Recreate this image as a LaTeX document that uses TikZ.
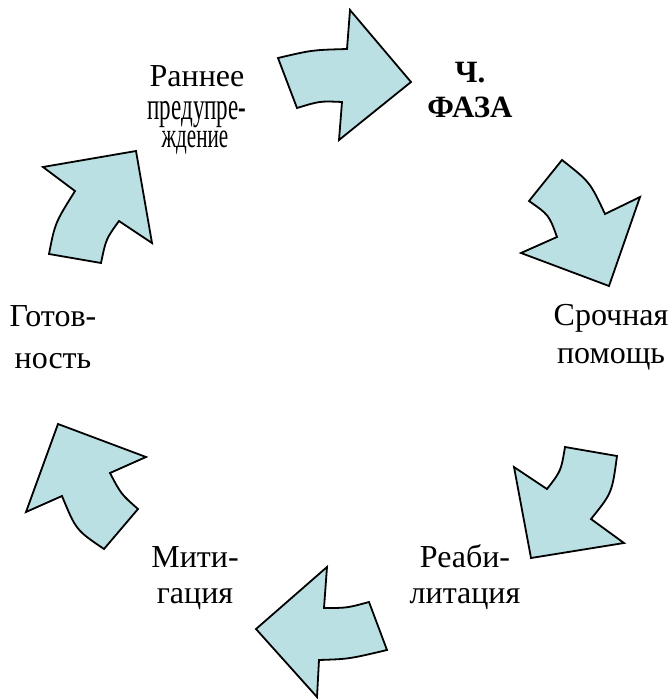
\documentclass[tikz,border=0pt]{standalone}
\usepackage{fontspec}
\setmainfont{Liberation Serif}
\usepackage{graphicx}
\definecolor{arrfill}{RGB}{186,224,227}
\begin{document}
\begin{tikzpicture}[x=1pt,y=-1pt,
  arr/.style={draw=black,fill=arrfill,line width=1.8pt,line join=miter},
  lbl/.style={anchor=base,align=center,inner sep=0pt,font=\fontsize{32}{42}\selectfont},
  cond/.style={anchor=base,inner sep=0pt,font=\fontsize{32}{32}\selectfont}]
\useasboundingbox (0,0) rectangle (671,699);
% top arrow
\draw[arr] (278,58) .. controls (312,50) .. (347,49) -- (350,10) -- (411,82) -- (339,140) -- (342,102) .. controls (320,101) .. (297,108) -- cycle;
% upper right arrow
\draw[arr] (562,160) .. controls (590,182) .. (605,214) -- (640,197) -- (609,286) -- (521,253) -- (557,237) .. controls (549,215) .. (529,201) -- cycle;
% lower right arrow
\draw[arr] (565,447) -- (617,456) .. controls (612,493) .. (591,519) -- (624,543) -- (531,558) -- (514,467) -- (547,489) .. controls (561,471) .. (565,447) -- cycle;
% bottom arrow
\draw[arr] (327,567) -- (256,629) -- (317,697) -- (319,660) .. controls (349,659) .. (387,650) -- (369,602) .. controls (347,608) .. (324,608) -- cycle;
% lower left arrow
\draw[arr] (58,424) -- (146,457) -- (110,473) .. controls (121,494) .. (138,509) -- (104,549) .. controls (76,530) .. (62,496) -- (26,512) -- cycle;
% upper left arrow
\draw[arr] (43,167) -- (136,151) -- (152,243) -- (119,221) .. controls (106,239) .. (101,263) -- (49,254) .. controls (55,223) .. (75,191) -- cycle;
% labels
\node[lbl] (early) at (197,86) {Раннее};
\node[cond] (early2) at (197,119) {\scalebox{0.72}[1.2]{предупре-}};
\node[cond] (early3) at (195,147) {\scalebox{0.66}[1.1]{ждение}};
\node[lbl,font=\fontsize{31}{35}\selectfont\bfseries] (phase) at (470,117) {Ч.\\ФАЗА};
\node[lbl,font=\fontsize{32}{38}\selectfont] (resp) at (611,363) {Срочная\\помощь};
\node[lbl,font=\fontsize{32}{36}\selectfont] (rehab) at (465,603) {Реаби-\\литация};
\node[lbl,font=\fontsize{32}{36}\selectfont] (mitig) at (195,603) {Мити-\\гация};
\node[lbl] (prep) at (53,368) {Готов-\\ность};
\end{tikzpicture}
\end{document}
